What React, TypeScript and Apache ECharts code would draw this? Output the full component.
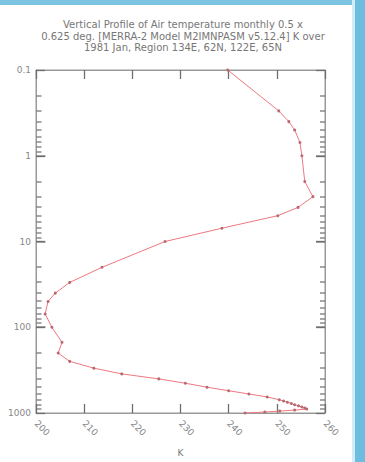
import React, { useEffect, useRef } from "react";
import * as echarts from "echarts";

const titleLines = [
  "Vertical Profile of Air temperature monthly 0.5 x",
  "0.625 deg. [MERRA-2 Model M2IMNPASM v5.12.4] K over",
  "1981 Jan, Region 134E, 62N, 122E, 65N",
];
const xTitle = "K";
const pressureLevels = [
  0.1, 0.3, 0.4, 0.5, 0.7, 1, 2, 3, 4, 5, 7, 10, 20, 30, 40, 50, 70, 100, 150, 200,
  250, 300, 350, 400, 450, 500, 550, 600, 650, 700, 725, 750, 775, 800, 825, 850,
  875, 900, 925, 950, 975, 1000,
];
const temperatures = [
  239.8, 250.4, 252.5, 253.7, 254.8, 255.2, 255.8, 257.5, 254.4, 250.2, 238.6, 226.8,
  213.7, 207.0, 204.0, 202.5, 201.9, 203.3, 205.4, 204.6, 207.0, 212.0, 217.8, 225.5,
  231.0, 235.5, 240.0, 244.2, 248.0, 250.5, 251.4, 252.2, 253.0, 253.7, 254.5, 255.2,
  255.8, 256.2, 253.7, 250.6, 247.5, 243.4,
];
const xMin = 200;
const xMax = 260;
const xStep = 10;
const majorPressures = [1, 10, 100];
const minorPressures = [
  0.2, 0.3, 0.4, 0.5, 0.6, 0.7, 0.8, 0.9, 2, 3, 4, 5, 6, 7, 8, 9, 20, 30, 40, 50, 60,
  70, 80, 90, 200, 300, 400, 500, 600, 700, 800, 900,
];

const FONT = "DejaVu Sans";
const GRAY = "#999999";
const TICK = "#6e6e6e";

export default function App() {
  const ref = useRef<HTMLDivElement>(null);
  useEffect(() => {
    if (!ref.current) return;
    const chart = echarts.init(ref.current, undefined, { renderer: "svg" });
    const axisCommonX = {
      type: "value" as const,
      min: xMin,
      max: xMax,
      interval: xStep,
      splitLine: { show: false },
      axisLine: { lineStyle: { color: GRAY } },
      axisTick: { inside: true, length: 9, lineStyle: { color: TICK, width: 1.3 } },
    };
    const axisCommonY = {
      type: "log" as const,
      logBase: 10,
      min: 0.1,
      max: 1000,
      inverse: true,
      splitLine: { show: false },
      axisLine: { lineStyle: { color: GRAY } },
      axisTick: { inside: true, length: 9, lineStyle: { color: TICK, width: 1.3 } },
    };
    const staticGraphics: any[] = [
      { type: "rect", shape: { x: 0, y: 0, width: 365, height: 5 }, style: { fill: "#7cc4e2" } },
      { type: "rect", shape: { x: 352, y: 0, width: 3, height: 462 }, style: { fill: "#d5ecf6" } },
      { type: "rect", shape: { x: 355, y: 0, width: 10, height: 462 }, style: { fill: "#6cbde0" } },
      {
        type: "text",
        x: 183,
        y: 19,
        style: {
          text: titleLines.join("\n"),
          fontFamily: FONT,
          fontSize: 10,
          lineHeight: 11.5,
          fill: "#777",
          align: "center",
          verticalAlign: "top",
        },
      },
    ];
    chart.setOption({
      animation: false,
      backgroundColor: "#ffffff",
      grid: { left: 36, right: 40, top: 70, bottom: 44, show: true, borderColor: GRAY, borderWidth: 1 },
      graphic: staticGraphics,
      xAxis: [
        {
          ...axisCommonX,
          position: "bottom",
          name: xTitle,
          nameLocation: "middle",
          nameGap: 35,
          nameTextStyle: { fontFamily: FONT, fontSize: 9, color: "#777" },
          axisLabel: { rotate: -45, fontFamily: FONT, fontSize: 9, color: "#888", margin: 9 },
        },
        { ...axisCommonX, position: "top", axisLabel: { show: false } },
      ],
      yAxis: [
        {
          ...axisCommonY,
          position: "left",
          axisLabel: {
            fontFamily: FONT,
            fontSize: 9,
            color: "#888",
            margin: 5,
            formatter: (v: number) => String(v),
          },
        },
        { ...axisCommonY, position: "right", axisLabel: { show: false } },
      ],
      series: [
        {
          type: "line",
          xAxisIndex: 0,
          yAxisIndex: 0,
          z: 3,
          data: temperatures.map((t, i) => [t, pressureLevels[i]]),
          symbol: "circle",
          symbolSize: 3,
          showSymbol: true,
          lineStyle: { color: "#ee7880", width: 1 },
          itemStyle: { color: "#b86a70", borderWidth: 0 },
        },
      ],
    });
    const tickLines: any[] = [];
    const addTicks = (values: number[], len: number) => {
      values.forEach((p) => {
        const l = chart.convertToPixel({ xAxisIndex: 0, yAxisIndex: 0 }, [xMin, p]) as number[];
        const r = chart.convertToPixel({ xAxisIndex: 0, yAxisIndex: 0 }, [xMax, p]) as number[];
        if (!l || !r) return;
        const y = Math.round(l[1]);
        tickLines.push({
          type: "rect",
          silent: true,
          z: 10,
          shape: { x: l[0] + 0.5, y: y - 0.6, width: len, height: 1.2 },
          style: { fill: TICK },
        });
        tickLines.push({
          type: "rect",
          silent: true,
          z: 10,
          shape: { x: r[0] - len, y: y - 0.6, width: len, height: 1.2 },
          style: { fill: TICK },
        });
      });
    };
    addTicks(minorPressures, 5);
    addTicks(majorPressures, 9);
    chart.setOption({ graphic: [...staticGraphics, ...tickLines] });
    return () => chart.dispose();
  }, []);
  return (
    <div
      ref={ref}
      style={{ position: "fixed", left: 0, top: 0, width: 365, height: 462, background: "#fff" }}
    />
  );
}
